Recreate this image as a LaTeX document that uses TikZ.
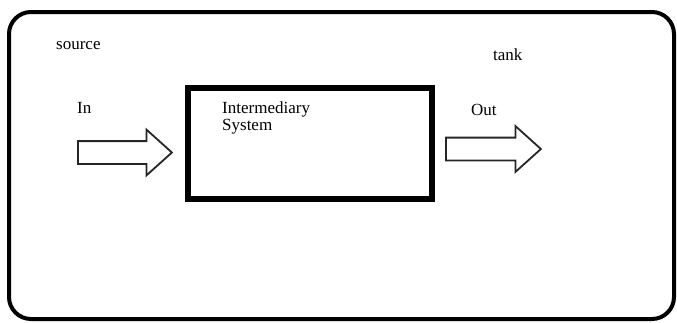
\documentclass[tikz,border=0pt]{standalone}
\usepackage{fontspec}
\setmainfont{Liberation Serif}
\usetikzlibrary{shapes.arrows,positioning}

\begin{document}
\begin{tikzpicture}[x=1pt,y=-1pt,
                    lbl/.style={inner sep=0pt,anchor=base west,font=\fontsize{17}{17}\selectfont},
                    frame/.style={draw,line width=4pt,rounded corners=22pt,minimum width=665pt,minimum height=307pt},
                    sysbox/.style={draw,line width=6pt,minimum width=244pt,minimum height=111pt},
                    flow/.style={draw=black!85,line width=1.8pt,single arrow,inner ysep=10.5pt,inner xsep=0pt,
                                 single arrow head extend=11.5pt,single arrow tip angle=84,anchor=tail}]
	\useasboundingbox (0,0) rectangle (677,322);
	\node[frame]			(tank)	at (341.5,165.5)	{};
	\node[sysbox]			(sys)	at (310,143.5)		{};
	\node[lbl]			(src)	at (56,49)		{source};
	\node[lbl]			(tk)	at (493,60)		{tank};
	\node[lbl,align=left]		(syst)	at (222,130)		{Intermediary\\System};
	\node[flow,minimum height=94pt]	(in)	at (77,152.5)		{};
	\node[flow,minimum height=95pt]	(out)	at (445,149)		{};
	\node[lbl]			(inl)	at (77,113)		{In};
	\node[lbl]			(outl)	at (471,115)		{Out};
\end{tikzpicture}
\end{document}
